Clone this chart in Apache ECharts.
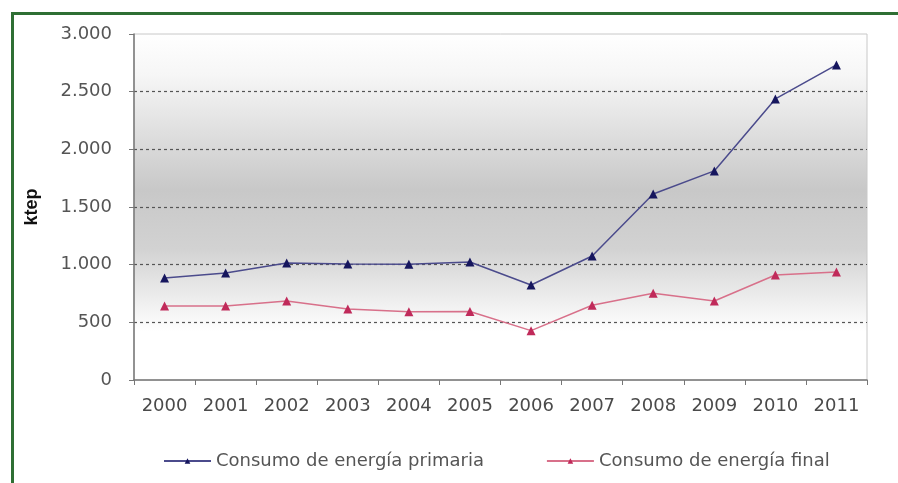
<!DOCTYPE html>
<html>
<head>
<meta charset="utf-8">
<script src="https://cdn.jsdelivr.net/npm/echarts@6/dist/echarts.min.js"></script>
<style>html,body{margin:0;padding:0;background:#fff;}#c{width:898px;height:483px;}</style>
</head>
<body>
<div id="c"></div>
<script>
const years = ['2000','2001','2002','2003','2004','2005','2006','2007','2008','2009','2010','2011'];
const primaria = [885, 928, 1015, 1006, 1004, 1023, 824, 1075, 1613, 1813, 2437, 2732];
const final = [642, 642, 685, 616, 592, 594, 428, 648, 752, 685, 910, 937];
const yTicks = [0, 500, 1000, 1500, 2000, 2500, 3000];
const seriesNames = ['Consumo de energía primaria', 'Consumo de energía final'];

const chart = echarts.init(document.getElementById('c'));
const fmt = v => String(v).replace(/\B(?=(\d{3})+(?!\d))/g, '.');
const FONT = 'DejaVu Sans, Verdana, sans-serif';
chart.setOption({
  backgroundColor: '#fff',
  animation: false,
  textStyle: { fontFamily: FONT },
  graphic: [{
    type: 'rect', left: 11, top: 12, z: -10,
    shape: { width: 1000, height: 1000 },
    style: { fill: 'transparent', stroke: '#2f6f34', lineWidth: 3 }
  }],
  grid: {
    left: 134, top: 34, right: 31, bottom: 103,
    show: true, borderColor: '#c8c8c8', borderWidth: 1,
    backgroundColor: {
      type: 'linear', x: 0, y: 0, x2: 0, y2: 1,
      colorStops: [
        { offset: 0, color: '#ffffff' },
        { offset: 0.12, color: '#f6f6f6' },
        { offset: 0.45, color: '#c8c8c8' },
        { offset: 0.62, color: '#d2d2d2' },
        { offset: 0.86, color: '#ffffff' },
        { offset: 1, color: '#ffffff' }
      ]
    }
  },
  legend: {
    bottom: 8, left: 158,
    itemWidth: 47, itemHeight: 7, itemGap: 62,
    textStyle: { fontSize: 18, color: '#555', fontFamily: FONT },
    data: seriesNames
  },
  xAxis: {
    type: 'category', data: years, boundaryGap: true,
    axisLine: { lineStyle: { color: '#777', width: 1.5 } },
    axisTick: { show: true, length: 5, lineStyle: { color: '#777' } },
    axisLabel: { fontSize: 18, color: '#4a4a4a', margin: 17, fontFamily: FONT }
  },
  yAxis: {
    type: 'value', min: yTicks[0], max: yTicks[yTicks.length - 1], interval: 500,
    name: 'ktep', nameLocation: 'middle', nameGap: 93, nameRotate: 90,
    nameTextStyle: { fontSize: 18, fontWeight: 'bold', color: '#111', fontFamily: 'Liberation Sans, Arial, sans-serif' },
    axisLine: { show: true, lineStyle: { color: '#777', width: 1.5 } },
    axisTick: { show: true, length: 5, lineStyle: { color: '#777' } },
    axisLabel: { fontSize: 18, color: '#555', margin: 22, formatter: fmt, fontFamily: FONT },
    splitLine: { show: true, showMinLine: false, showMaxLine: false,
      lineStyle: { color: '#555', type: [3, 3], width: 1.2 } }
  },
  series: [
    {
      name: seriesNames[0], type: 'line', data: primaria,
      symbol: 'triangle', symbolSize: 9,
      lineStyle: { color: '#4b4b8c', width: 1.5 },
      itemStyle: { color: '#16165e' }
    },
    {
      name: seriesNames[1], type: 'line', data: final,
      symbol: 'triangle', symbolSize: 9,
      lineStyle: { color: '#d8708a', width: 1.5 },
      itemStyle: { color: '#c02a5a' }
    }
  ]
});
</script>
</body>
</html>
